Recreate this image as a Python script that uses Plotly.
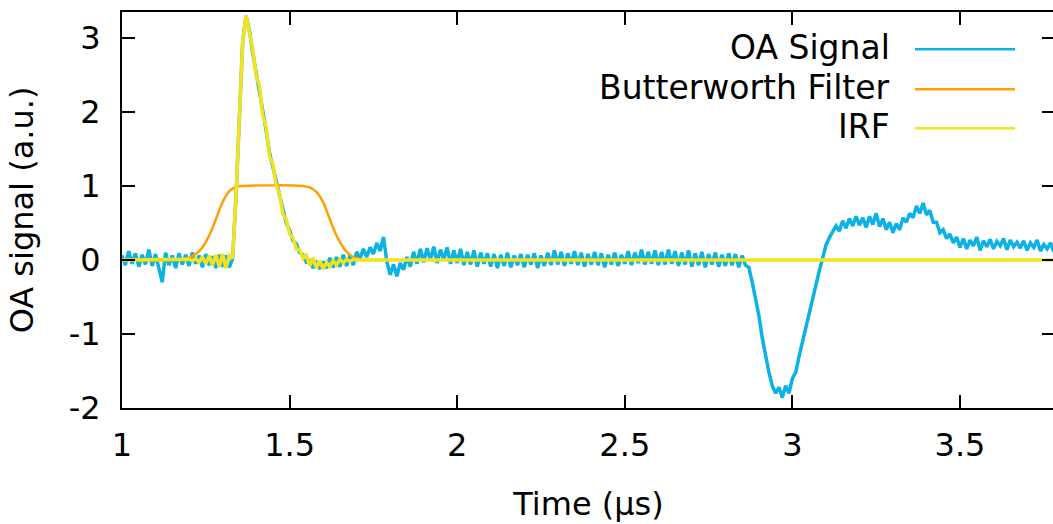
import numpy as np
import plotly.graph_objects as go

# ---------------- data ----------------
# OA signal sampled every 0.01 us from 1.00 to 3.78 us
oa_t0, oa_dt = 1.00, 0.01
oa_signal = [
    0.06, -0.07, 0.12, -0.05, 0.09, -0.09, 0.07, -0.06, 0.14, -0.08,   # 1.00
    0.08, -0.10, -0.30, 0.10, -0.07, 0.06, -0.11, 0.09, -0.06, 0.07,   # 1.10
    -0.08, 0.10, -0.05, 0.06, -0.10, 0.08, -0.07, 0.05, -0.11, 0.07,   # 1.20
    -0.09, 0.06, -0.10, 0.02, 0.85, 1.90, 2.95, 3.30, 3.10, 2.80,      # 1.30
    2.55, 2.30, 2.00, 1.75, 1.45, 1.25, 1.05, 0.85, 0.65, 0.50,        # 1.40
    0.40, 0.26, 0.22, 0.10, 0.07, -0.03, -0.01, -0.11, -0.04, -0.12,   # 1.50
    -0.02, -0.11, 0.03, -0.10, 0.04, -0.09, 0.07, -0.08, 0.06, -0.07,  # 1.60
    0.11, 0.02, 0.15, 0.04, 0.17, 0.08, 0.23, 0.12, 0.31, -0.02,       # 1.70
    -0.20, -0.06, -0.22, -0.04, -0.13, 0.04, -0.09, 0.11, -0.05, 0.15, # 1.80
    -0.03, 0.16, 0.00, 0.18, -0.04, 0.14, 0.00, 0.17, -0.05, 0.13,     # 1.90
    -0.04, 0.15, -0.07, 0.11, -0.06, 0.13, -0.09, 0.10, -0.05, 0.09,   # 2.00
    -0.09, 0.08, -0.11, 0.07, -0.08, 0.10, -0.10, 0.06, -0.07, 0.08,   # 2.10
    -0.10, 0.07, -0.06, 0.09, -0.11, 0.06, -0.08, 0.10, -0.07, 0.13,   # 2.20
    -0.06, 0.11, -0.08, 0.09, -0.05, 0.12, -0.07, 0.10, -0.09, 0.08,   # 2.30
    -0.06, 0.11, -0.07, 0.09, -0.10, 0.07, -0.06, 0.10, -0.08, 0.07,   # 2.40
    -0.05, 0.12, -0.07, 0.10, -0.04, 0.14, -0.06, 0.11, -0.05, 0.13,   # 2.50
    -0.07, 0.11, -0.06, 0.14, -0.05, 0.12, -0.08, 0.10, -0.06, 0.13,   # 2.60
    -0.09, 0.09, -0.07, 0.11, -0.10, 0.08, -0.06, 0.10, -0.09, 0.07,   # 2.70
    -0.08, 0.09, -0.07, 0.08, -0.10, 0.06, -0.07, -0.10, -0.30, -0.52, # 2.80
    -0.75, -1.05, -1.30, -1.52, -1.70, -1.80, -1.72, -1.86, -1.70, -1.80,  # 2.90
    -1.60, -1.52, -1.30, -1.10, -0.90, -0.72, -0.50, -0.35, -0.15, 0.02,   # 3.00
    0.20, 0.30, 0.37, 0.46, 0.39, 0.53, 0.43, 0.56, 0.46, 0.59,        # 3.10
    0.47, 0.57, 0.44, 0.59, 0.48, 0.63, 0.45, 0.56, 0.41, 0.51,        # 3.20
    0.37, 0.49, 0.41, 0.57, 0.51, 0.63, 0.57, 0.73, 0.63, 0.77,        # 3.30
    0.61, 0.67, 0.51, 0.51, 0.37, 0.41, 0.29, 0.35, 0.23, 0.31,        # 3.40
    0.17, 0.29, 0.15, 0.27, 0.19, 0.31, 0.13, 0.26, 0.18, 0.28,        # 3.50
    0.15, 0.25, 0.19, 0.29, 0.14, 0.27, 0.18, 0.24, 0.16, 0.26,        # 3.60
    0.13, 0.23, 0.17, 0.27, 0.12, 0.21, 0.15, 0.23, 0.11,              # 3.70
]

# Butterworth filter (window) response
bw_time = [1.00, 1.15, 1.18, 1.20, 1.22, 1.24, 1.26, 1.28, 1.30, 1.32, 1.34, 1.36,
           1.54, 1.56, 1.58, 1.60, 1.62, 1.64, 1.66, 1.68, 1.70, 1.72, 1.75]
bw_values = [0.0, 0.0, 0.01, 0.03, 0.08, 0.17, 0.33, 0.55, 0.78, 0.93, 0.99, 1.0,
             1.0, 0.98, 0.92, 0.78, 0.55, 0.33, 0.17, 0.07, 0.02, 0.005, 0.0]

# Impulse response function
irf_time = [1.00, 1.19,
            1.20, 1.21, 1.22, 1.23, 1.24, 1.25, 1.26, 1.27, 1.28, 1.29,
            1.30, 1.31, 1.32, 1.33, 1.34, 1.35, 1.36, 1.37, 1.38, 1.39,
            1.40, 1.41, 1.42, 1.43, 1.44, 1.45, 1.46, 1.47, 1.48, 1.49,
            1.50, 1.51, 1.52, 1.53, 1.54, 1.55, 1.56, 1.57, 1.58, 1.59,
            1.60, 1.61, 1.62, 1.63, 1.64, 1.65, 1.66, 1.67, 1.68, 1.69,
            1.70, 3.79]
irf_values = [0.0, 0.0,
              0.01, -0.01, 0.02, -0.03, 0.04, -0.05, 0.06, -0.07, 0.07, -0.09,
              0.08, -0.11, 0.06, 0.02, 0.85, 1.90, 2.95, 3.30, 3.05, 2.85,
              2.50, 2.35, 1.95, 1.80, 1.40, 1.30, 1.00, 0.90, 0.62, 0.55,
              0.35, 0.30, 0.15, 0.14, 0.02, 0.06, -0.08, 0.03, -0.11, -0.01,
              -0.12, -0.03, -0.09, -0.01, -0.07, 0.01, -0.04, 0.01, -0.02, 0.01,
              0.0, 0.0]

series_names = ["OA Signal", "Butterworth Filter", "IRF"]
series_colors = ["#0ab2e6", "#ffa000", "#f4e31c"]

x_ticks = [1, 1.5, 2, 2.5, 3, 3.5]
y_ticks = [-2, -1, 0, 1, 2, 3]

# ---------------- figure ----------------
oa_time = np.round(oa_t0 + oa_dt * np.arange(len(oa_signal)), 4)

FONT = "DejaVu Sans"
FIG_W, PLOT_L = 1055, 122   # plot frame runs 2px past the visible window, as in the cropped original
fig = go.Figure()
fig.add_trace(go.Scatter(x=oa_time, y=oa_signal, mode="lines", name=series_names[0],
                         line=dict(color=series_colors[0], width=3.5)))
fig.add_trace(go.Scatter(x=bw_time, y=bw_values, mode="lines", name=series_names[1],
                         line=dict(color=series_colors[1], width=2.5, shape="spline")))
fig.add_trace(go.Scatter(x=irf_time, y=irf_values, mode="lines", name=series_names[2],
                         line=dict(color=series_colors[2], width=3.5)))

# legend drawn gnuplot-style: right-aligned text, sample line to the right
plot_w = FIG_W - PLOT_L
def px_to_paper_x(px):
    return (px - PLOT_L) / plot_w

leg_rows_y = [0.910, 0.809, 0.7106]
for name, col, yy in zip(series_names, series_colors, leg_rows_y):
    fig.add_annotation(x=px_to_paper_x(892), y=yy, xref="paper", yref="paper", text=name,
                       showarrow=False, xanchor="right", yanchor="middle",
                       font=dict(family=FONT, size=33, color="black"))
    fig.add_shape(type="line", xref="paper", yref="paper",
                  x0=px_to_paper_x(915), x1=px_to_paper_x(1015),
                  y0=yy - 0.004, y1=yy - 0.004, line=dict(color=col, width=2.5))

axis_common = dict(showline=True, linecolor="black", linewidth=2, ticks="inside",
                   ticklen=13, tickwidth=2, tickcolor="black", mirror="ticks",
                   showgrid=False, zeroline=False, automargin=False,
                   tickfont=dict(family=FONT, size=32, color="black"))

fig.update_layout(
    width=FIG_W, height=524,
    margin=dict(l=PLOT_L, r=0, t=12, b=116),
    paper_bgcolor="white", plot_bgcolor="white",
    showlegend=False,
    xaxis=dict(range=[1, 1 + plot_w / 335.2], tickvals=x_ticks, ticktext=[str(v) for v in x_ticks],
               ticklabelstandoff=8,
               title=dict(text="Time (µs)", font=dict(family=FONT, size=32, color="black"),
                          standoff=29),
               **axis_common),
    yaxis=dict(range=[-2, 3.351], tickvals=y_ticks, ticktext=[str(v) for v in y_ticks],
               ticklabelstandoff=13,
               title=dict(text="OA signal (a.u.)", font=dict(family=FONT, size=32, color="black"),
                          standoff=25),
               **axis_common),
)

fig.write_html("out.html", config={"displayModeBar": False},
               post_script="document.body.style.margin='0px';document.body.style.overflow='hidden';")
